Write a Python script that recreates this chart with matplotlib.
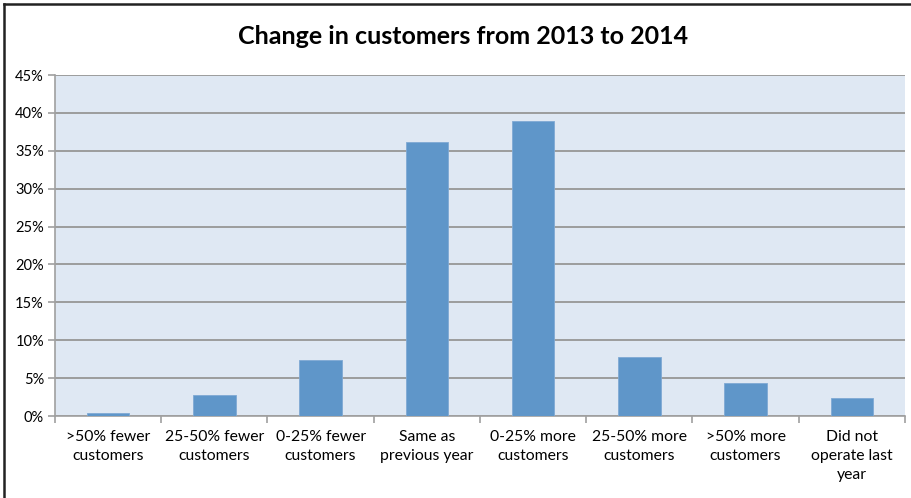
import numpy as np
import matplotlib
matplotlib.use("Agg")
import matplotlib.pyplot as plt
from matplotlib.lines import Line2D
from matplotlib.ticker import FuncFormatter, MultipleLocator

# ---------------------- data ----------------------
categories = [">50% fewer\ncustomers", "25-50% fewer\ncustomers", "0-25% fewer\ncustomers",
              "Same as\nprevious year", "0-25% more\ncustomers", "25-50% more\ncustomers",
              ">50% more\ncustomers", "Did not\noperate last\nyear"]
shares = [0.4, 2.8, 7.4, 36.1, 38.9, 7.8, 4.4, 2.4]  # percent
title = "Change in customers from 2013 to 2014"
# ---------------------------------------------------

plt.rcParams['font.family'] = ['Lato', 'DejaVu Sans']

fig = plt.figure(figsize=(9.12, 4.98), dpi=100)
W, H = 912, 498
ax = fig.add_axes([55 / W, 1 - 416 / H, (905 - 55) / W, (416 - 75) / H])
ax.set_facecolor("#dfe8f3")

x = np.arange(len(categories))
ax.bar(x, shares, width=0.4, color="#5f96c9", edgecolor="#7fa9d4", linewidth=0.6, zorder=3)

ax.set_xlim(-0.5, len(categories) - 0.5)
ax.set_ylim(0, 45)
ax.yaxis.set_major_locator(MultipleLocator(5))
ax.yaxis.set_major_formatter(FuncFormatter(lambda v, p: f"{v:.0f}%"))
ax.grid(axis="y", color="#9c9c9c", linewidth=1.4, zorder=1)

# category boundary ticks on x, labels centred between
ax.set_xticks(np.arange(len(categories) + 1) - 0.5)
ax.set_xticklabels([])
ax.set_xticks(x, minor=True)
ax.set_xticklabels(categories, minor=True, fontsize=11.3, linespacing=1.45)
ax.tick_params(axis="x", which="minor", length=0, pad=10)
ax.tick_params(axis="x", which="major", length=5, color="#a0a0a0", width=1.2)
ax.tick_params(axis="y", length=5, color="#a0a0a0", width=1.2, labelsize=10.5, pad=3)

for s in ["top", "right"]:
    ax.spines[s].set_visible(False)
for s in ["left", "bottom"]:
    ax.spines[s].set_color("#a0a0a0")
    ax.spines[s].set_linewidth(1.2)

fig.text(463 / W, 1 - 37 / H, title, ha="center", va="center",
         fontsize=18, fontweight="bold")

# chart border: only the left and top edges show in the crop
bx, by = 4.5 / W, 1 - 4.5 / H
fig.lines.append(Line2D([bx, bx], [0, by], transform=fig.transFigure,
                        color="#222222", linewidth=1.8))
fig.lines.append(Line2D([bx, 1], [by, by], transform=fig.transFigure,
                        color="#222222", linewidth=1.8))

fig.savefig("out.png", dpi=100)
